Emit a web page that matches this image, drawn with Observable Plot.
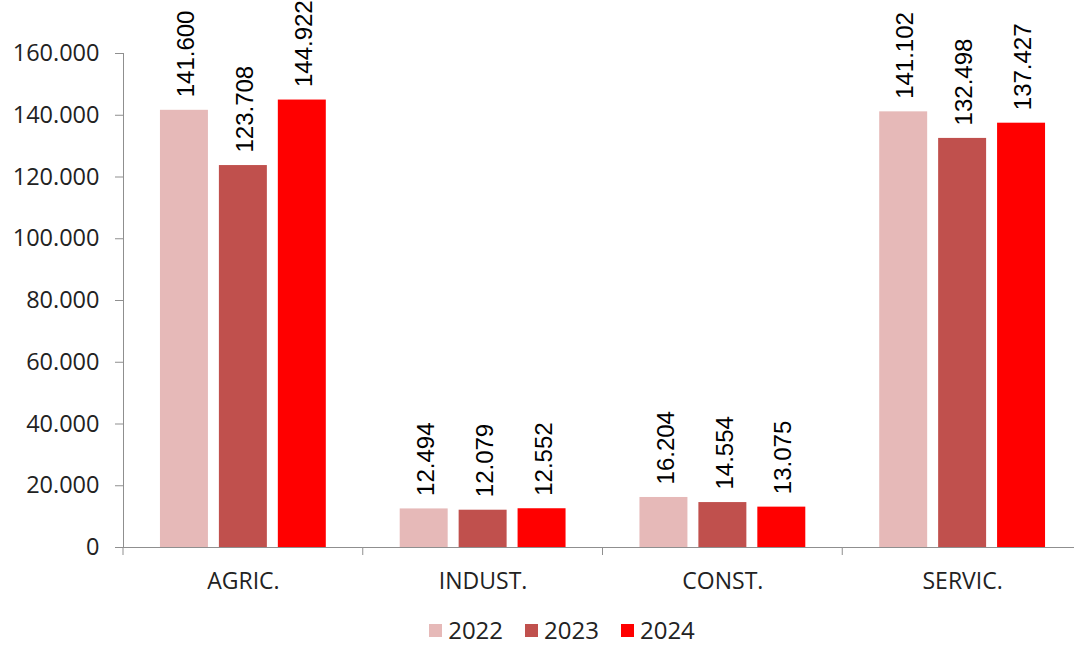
<!DOCTYPE html>
<html>
<head>
<meta charset="utf-8">
<script src="https://cdn.jsdelivr.net/npm/d3@7"></script>
<script src="https://cdn.jsdelivr.net/npm/@observablehq/plot@0.6"></script>
<style>
  html, body { margin: 0; padding: 0; background: #fff; overflow: hidden; }
  body { font-family: "Open Sans", sans-serif; color: #222; width: 1074px; height: 646px; position: relative; }
  #legend { position: absolute; left: 0; right: 0; top: 614px; display: flex; justify-content: center; align-items: center; height: 32px; padding-left: 50px; }
  .item { display: flex; align-items: center; margin: 0 11px; font-size: 24px; line-height: 32px; }
  .sw { width: 13px; height: 13px; margin-right: 6px; }
</style>
</head>
<body>
<div id="chart"></div>
<div id="legend"></div>
<script>
const categories = ["AGRIC.", "INDUST.", "CONST.", "SERVIC."];
const years = ["2022", "2023", "2024"];
const values2022 = [141600, 12494, 16204, 141102];
const values2023 = [123708, 12079, 14554, 132498];
const values2024 = [144922, 12552, 13075, 137427];
const yearColors = ["#E6B9B8", "#C0504D", "#FF0000"];
const yTicks = [0, 20000, 40000, 60000, 80000, 100000, 120000, 140000, 160000];

const series = [values2022, values2023, values2024];
const data = [];
categories.forEach((c, i) => {
  years.forEach((y, j) => data.push({category: c, year: y, value: series[j][i]}));
});

const loc = d3.formatLocale({decimal: ",", thousands: ".", grouping: [3], currency: ["", "€"]});
const fmt = loc.format(",");
const axisColor = "#8f8f8f";

function boundaryTicks(index, scales, values, dimensions) {
  const {marginLeft, height, marginBottom} = dimensions;
  const g = d3.create("svg:g");
  g.append("line")
    .attr("x1", marginLeft).attr("x2", marginLeft)
    .attr("y1", height - marginBottom).attr("y2", height - marginBottom + 8)
    .attr("stroke", axisColor);
  return g.node();
}

const chart = Plot.plot({
  width: 1074,
  height: 605,
  marginTop: 53,
  marginBottom: 58,
  marginLeft: 123,
  marginRight: 0,
  style: {fontFamily: "Open Sans", fontSize: "23px", color: "#222", background: "#fff", overflow: "visible"},
  fx: {domain: categories, range: [123, 1082], padding: 0, round: false, label: null},
  x: {domain: years, paddingInner: 0.186, paddingOuter: 0.627, round: false, axis: null},
  y: {domain: [0, 160000], label: null},
  color: {domain: years, range: yearColors},
  marks: [
    Plot.axisY({ticks: yTicks, tickFormat: fmt, tickSize: 8, tickPadding: 16, stroke: axisColor, label: null, fontSize: 23.5}),
    Plot.axisFx({anchor: "bottom", tickSize: 0, tickPadding: 25, label: null, fontSize: 23}),
    Plot.barY(data, {fx: "category", x: "year", y: "value", fill: "year"}),
    Plot.ruleY([0], {stroke: axisColor}),
    Plot.frame({anchor: "left", facetAnchor: "left", stroke: axisColor}),
    Plot.text(data, {
      fx: "category", x: "year", y: "value",
      text: d => fmt(d.value),
      rotate: -90, textAnchor: "start", dy: -13, dx: 2,
      fontFamily: "Liberation Sans", fontSize: 24, fill: "#000"
    }),
    boundaryTicks
  ]
});
document.getElementById("chart").appendChild(chart);

const legend = document.getElementById("legend");
years.forEach((y, i) => {
  const item = document.createElement("div");
  item.className = "item";
  const sw = document.createElement("div");
  sw.className = "sw";
  sw.style.background = yearColors[i];
  item.appendChild(sw);
  item.appendChild(document.createTextNode(y));
  legend.appendChild(item);
});
</script>
</body>
</html>
